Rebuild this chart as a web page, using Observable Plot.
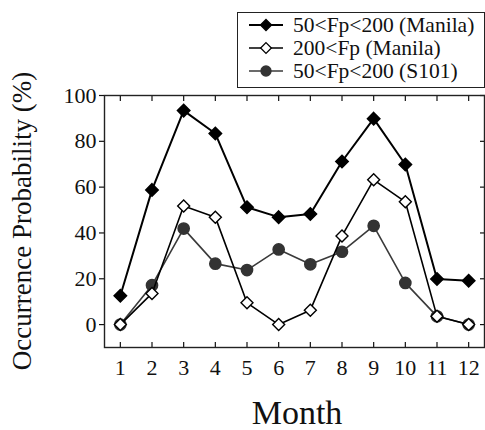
<!DOCTYPE html>
<html>
<head>
<meta charset="utf-8">
<script src="https://cdn.jsdelivr.net/npm/d3@7"></script>
<script src="https://cdn.jsdelivr.net/npm/@observablehq/plot@0.6"></script>
<style>
  html, body { margin: 0; padding: 0; background: #fff; }
  #chart { position: relative; width: 485px; height: 430px; overflow: hidden; font-family: 'Liberation Serif', 'Times New Roman', serif; color: #111; }
  #chart svg.plot { position: absolute; left: 0; top: 0; }
  #chart svg text, #chart span, #chart div { font-family: 'Liberation Serif', 'Times New Roman', serif; }
  #legend { position: absolute; left: 237px; top: 12px; width: 246px; height: 74px; border: 1.3px solid #222; background: #fff; }
  #legend .row { position: absolute; left: 10px; height: 22px; display: flex; align-items: center; font-size: 21.5px; line-height: 22px; white-space: nowrap; }
  #legend .row svg { margin-right: 9px; }
  #ylabel { position: absolute; left: 22px; top: 221px; transform: translate(-50%, -50%) rotate(-90deg); font-size: 27px; line-height: 1; white-space: nowrap; }
  #xlabel { position: absolute; left: 297px; top: 413px; transform: translate(-50%, -50%); font-size: 34px; line-height: 1; white-space: nowrap; }
</style>
</head>
<body>
<div id="chart"></div>
<script>
// Monthly occurrence probability (%) for three ionospheric classes
const months = [1, 2, 3, 4, 5, 6, 7, 8, 9, 10, 11, 12];
const manilaMid  = [12.6, 58.8, 93.4, 83.4, 51.2, 46.9, 48.3, 71.2, 89.9, 69.9, 19.9, 19.1]; // 50<Fp<200 (Manila)
const manilaHigh = [0, 13.6, 51.8, 46.9, 9.5, 0, 6.3, 38.7, 63.2, 53.6, 3.6, 0];              // 200<Fp (Manila)
const s101Mid    = [0, 17.2, 41.9, 26.6, 23.8, 32.8, 26.3, 31.8, 43.1, 18.2, 3.6, 0];        // 50<Fp<200 (S101)
const seriesNames = ["50<Fp<200 (Manila)", "200<Fp (Manila)", "50<Fp<200 (S101)"];
const yTicks = [0, 20, 40, 60, 80, 100];

const rows = (vals, name) => months.map((m, i) => ({month: m, value: vals[i], series: name}));
const dataA = rows(manilaMid, seriesNames[0]);
const dataB = rows(manilaHigh, seriesNames[1]);
const dataC = rows(s101Mid, seriesNames[2]);

const styles = [
  {symbol: "diamond2", fill: "#000", stroke: "#000", line: "#000", lineWidth: 2, r: 5.6},
  {symbol: "diamond2", fill: "#fff", stroke: "#000", line: "#000", lineWidth: 1.6, r: 5.4},
  {symbol: "circle", fill: "#333", stroke: "#333", line: "#3a3a3a", lineWidth: 1.6, r: 5.6}
];

const font = "'Liberation Serif', 'Times New Roman', serif";

const plot = Plot.plot({
  width: 485,
  height: 430,
  marginTop: 95,
  marginBottom: 83,
  marginLeft: 104,
  marginRight: 1,
  style: {fontFamily: font, fontSize: "22px", color: "#111", background: "transparent"},
  x: {domain: [0.5, 12.5], label: null},
  y: {domain: [-10, 100], label: null},
  marks: [
    // inward ticks on the bottom and top edges
    Plot.axisX(months, {anchor: "bottom", tickSize: -5, tickFormat: () => "", strokeWidth: 1.2}),
    Plot.axisX(months, {anchor: "top", tickSize: -5, tickFormat: () => "", strokeWidth: 1.2}),
    Plot.axisX(months, {anchor: "bottom", tickSize: 0, tickPadding: 12, fontSize: 22, fontFamily: font}),
    // outward ticks on the left, inward on the right
    Plot.axisY(yTicks, {anchor: "left", tickSize: 5, tickPadding: 3, fontSize: 22, fontFamily: font, strokeWidth: 1.2}),
    Plot.axisY(yTicks, {anchor: "right", tickSize: -5, tickFormat: () => "", strokeWidth: 1.2}),
    Plot.frame({stroke: "#222", strokeWidth: 1.4}),
    // S101 series
    Plot.line(dataC, {x: "month", y: "value", stroke: styles[2].line, strokeWidth: styles[2].lineWidth}),
    Plot.dot(dataC, {x: "month", y: "value", symbol: styles[2].symbol, r: styles[2].r, fill: styles[2].fill, stroke: styles[2].stroke}),
    // Manila 200<Fp
    Plot.line(dataB, {x: "month", y: "value", stroke: styles[1].line, strokeWidth: styles[1].lineWidth}),
    Plot.dot(dataB, {x: "month", y: "value", symbol: styles[1].symbol, r: styles[1].r, fill: styles[1].fill, stroke: styles[1].stroke, strokeWidth: 1.4}),
    // Manila 50<Fp<200
    Plot.line(dataA, {x: "month", y: "value", stroke: styles[0].line, strokeWidth: styles[0].lineWidth}),
    Plot.dot(dataA, {x: "month", y: "value", symbol: styles[0].symbol, r: styles[0].r, fill: styles[0].fill, stroke: styles[0].stroke})
  ]
});
plot.classList.add("plot");

const chart = document.getElementById("chart");
chart.appendChild(plot);

// axis titles
const ylab = document.createElement("div");
ylab.id = "ylabel";
ylab.textContent = "Occurrence Probability (%)";
chart.appendChild(ylab);
const xlab = document.createElement("div");
xlab.id = "xlabel";
xlab.textContent = "Month";
chart.appendChild(xlab);

// legend box
const legend = document.createElement("div");
legend.id = "legend";
const symbolTypes = {diamond2: d3.symbolDiamond2, circle: d3.symbolCircle};
seriesNames.forEach((name, i) => {
  const st = styles[i];
  const row = document.createElement("div");
  row.className = "row";
  row.style.top = (1 + i * 23) + "px";
  const sw = d3.create("svg").attr("width", 36).attr("height", 22);
  sw.append("line").attr("x1", 1).attr("x2", 35).attr("y1", 11).attr("y2", 11)
    .attr("stroke", st.line).attr("stroke-width", st.lineWidth);
  sw.append("path")
    .attr("d", d3.symbol(symbolTypes[st.symbol], Math.PI * st.r * st.r * 0.8)())
    .attr("transform", "translate(18,11)")
    .attr("fill", st.fill).attr("stroke", st.stroke).attr("stroke-width", 1.3);
  row.appendChild(sw.node());
  const label = document.createElement("span");
  label.textContent = name;
  row.appendChild(label);
  legend.appendChild(row);
});
chart.appendChild(legend);
</script>
</body>
</html>
